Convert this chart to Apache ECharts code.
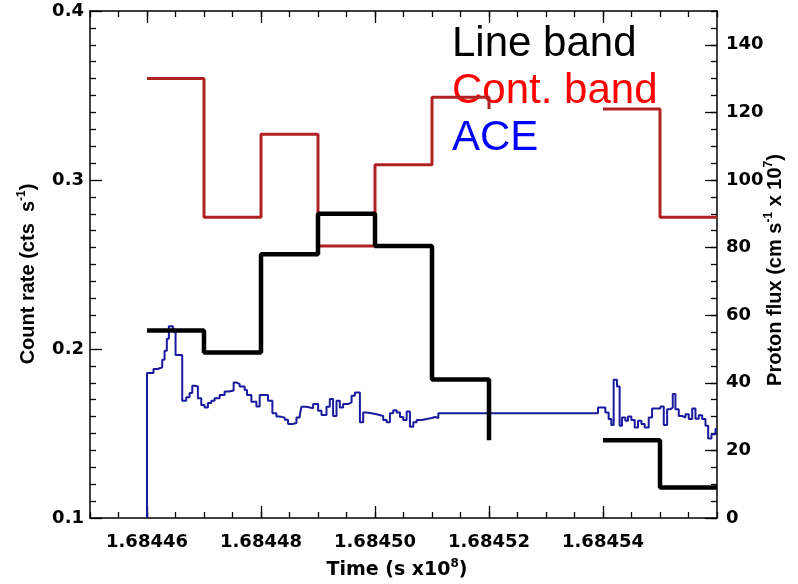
<!DOCTYPE html>
<html>
<head>
<meta charset="utf-8">
<script src="https://cdn.jsdelivr.net/npm/echarts@6/dist/echarts.min.js"></script>
<style>
  html, body { margin: 0; padding: 0; background: #fff; }
  #chart { width: 798px; height: 584px; }
</style>
</head>
<body>
<div id="chart"></div>
<script>
// Time axis in seconds; labels shown in units of 1e8 s
const timeMin = 168445000;
const timeMax = 168456000;
const timeLabelValues = [168446000, 168448000, 168450000, 168452000, 168454000];

// Count rate (cts/s) step vertices; null marks the data gap
const bandTimes = [168446000, 168447000, 168448000, 168449000, 168450000, 168451000, 168452000, null, 168454000, 168455000, 168456000];
const lineBandRates = [0.211, 0.198, 0.256, 0.280, 0.261, 0.182, 0.146, null, 0.146, 0.118, 0.118];
const contBandRates = [0.360, 0.278, 0.327, 0.261, 0.309, 0.349, 0.342, null, 0.342, 0.278, 0.278];

// ACE proton flux (cm^-2 s^-1 x 1e7), times as seconds after aceStart
const aceStart = 168446000;
const aceOffsets = [0, 0, 114, 190, 267, 308, 348, 384, 454, 501,
  618, 688, 747, 794, 835, 893, 952, 1011, 1069, 1128,
  1186, 1274, 1362, 1438, 1520, 1567, 1626, 1714, 1754, 1831,
  1919, 1977, 2123, 2200, 2271, 2329, 2417, 2475, 2552, 2622,
  2680, 2710, 2798, 2914, 3002, 3061, 3149, 3207, 3265, 3325,
  3383, 3441, 3529, 3589, 3647, 3735, 3793, 3852, 3940, 4028,
  4144, 4204, 4262, 4320, 4380, 4438, 4496, 4555, 4613, 4672,
  4731, 4819, 4907, 4995, 5053, 5111, 7912, 8041, 8099, 8146,
  8187, 8246, 8292, 8334, 8392, 8439, 8498, 8556, 8615, 8674,
  8731, 8802, 8861, 9007, 9066, 9125, 9183, 9224, 9271, 9329,
  9389, 9447, 9505, 9565, 9622, 9680, 9740, 9798, 9845, 9903,
  9974, 10000];
const aceFlux = [0, 42.9, 44.1, 44.6, 46.8, 49.5, 53.0, 56.7, 55.7, 48.2,
  34.7, 35.7, 37.0, 39.1, 38.9, 35.4, 33.4, 32.7, 34.0, 34.7,
  35.4, 36.4, 37.4, 37.7, 40.1, 39.6, 38.9, 37.9, 36.4, 34.4,
  33.0, 36.4, 34.7, 31.0, 30.0, 29.7, 29.1, 27.8, 28.1, 29.7,
  30.4, 32.9, 32.5, 33.7, 31.7, 30.5, 32.9, 35.2, 30.2, 34.7,
  32.7, 33.7, 34.2, 36.2, 37.1, 28.3, 31.2, 31.0, 30.7, 30.2,
  29.0, 28.3, 31.0, 31.9, 31.2, 29.9, 29.0, 31.5, 27.0, 28.3,
  29.0, 29.3, 29.6, 29.9, 29.6, 31.0, 32.7, 31.2, 29.3, 27.5,
  40.9, 38.9, 27.3, 29.7, 28.8, 30.0, 29.0, 26.8, 28.8, 27.8,
  26.8, 29.7, 32.4, 33.0, 27.5, 32.2, 32.7, 36.7, 32.2, 30.2,
  29.7, 30.7, 29.3, 32.4, 29.4, 30.4, 29.3, 27.3, 23.5, 24.8,
  26.3, 26.3];

const legendEntries = [
  { text: 'Line band', color: '#000000' },
  { text: 'Cont. band', color: '#ff0000' },
  { text: 'ACE', color: '#0000ff' }
];

function pairs(xs, ys) {
  return xs.map((x, i) => (x === null || ys[i] === null) ? ['-', '-'] : [x, ys[i]]);
}
const aceData = aceOffsets.map((o, i) => [aceStart + o, aceFlux[i]]);

const tickFont = { fontFamily: 'DejaVu Sans', fontWeight: 'bold', fontSize: 18, color: '#000' };
const frameLine = { show: true, lineStyle: { color: '#000', width: 1.5 } };
const tickStyle = { color: '#000', width: 1.3 };

const chart = echarts.init(document.getElementById('chart'), null, { renderer: 'canvas' });

const xBase = { type: 'value', min: timeMin, max: timeMax, gridIndex: 0, splitLine: { show: false } };

chart.setOption({
  animation: false,
  backgroundColor: '#ffffff',
  grid: { left: 90, right: 81, top: 11, bottom: 66, containLabel: false },
  xAxis: [
    Object.assign({}, xBase, {
      position: 'bottom', interval: 500,
      axisLine: frameLine,
      axisTick: { show: true, inside: true, length: 6, lineStyle: tickStyle },
      axisLabel: Object.assign({
        show: true, margin: 15,
        customValues: timeLabelValues,
        formatter: v => (v / 1e8).toFixed(5)
      }, tickFont)
    }),
    Object.assign({}, xBase, {
      position: 'bottom',
      axisLine: { show: false },
      axisTick: { show: true, inside: true, length: 12, customValues: timeLabelValues, lineStyle: tickStyle },
      axisLabel: { show: false }
    }),
    Object.assign({}, xBase, {
      position: 'top', interval: 500,
      axisLine: frameLine,
      axisTick: { show: true, inside: true, length: 6, lineStyle: tickStyle },
      axisLabel: { show: false }
    }),
    Object.assign({}, xBase, {
      position: 'top',
      axisLine: { show: false },
      axisTick: { show: true, inside: true, length: 12, customValues: timeLabelValues, lineStyle: tickStyle },
      axisLabel: { show: false }
    })
  ],
  yAxis: [
    {
      type: 'value', position: 'left', min: 0.1, max: 0.4, interval: 0.1,
      axisLine: frameLine,
      axisTick: { show: true, inside: true, length: 12, lineStyle: tickStyle },
      minorTick: { show: true, splitNumber: 10, length: 6, lineStyle: tickStyle },
      axisLabel: Object.assign({ margin: 6, formatter: v => v.toFixed(1) }, tickFont),
      splitLine: { show: false }, minorSplitLine: { show: false }
    },
    {
      type: 'value', position: 'right', min: 0, max: 150, interval: 20,
      axisLine: frameLine,
      axisTick: { show: true, inside: true, length: 12, lineStyle: tickStyle },
      axisLabel: Object.assign({ margin: 9, showMaxLabel: false }, tickFont),
      splitLine: { show: false }
    },
    {
      type: 'value', position: 'right', min: 0, max: 150, interval: 5,
      axisLine: { show: false },
      axisTick: { show: true, inside: true, length: 6, lineStyle: tickStyle },
      axisLabel: { show: false },
      splitLine: { show: false }
    }
  ],
  series: [
    {
      name: 'Cont. band', type: 'line', step: 'end', xAxisIndex: 0, yAxisIndex: 0,
      data: pairs(bandTimes, contBandRates), showSymbol: false, symbol: 'none', connectNulls: false,
      lineStyle: { color: '#b02222', width: 3 }, z: 3
    },
    {
      name: 'Line band', type: 'line', step: 'end', xAxisIndex: 0, yAxisIndex: 0,
      data: pairs(bandTimes, lineBandRates), showSymbol: false, symbol: 'none', connectNulls: false,
      lineStyle: { color: '#000000', width: 4.5 }, z: 4
    },
    {
      name: 'ACE', type: 'line', step: 'end', xAxisIndex: 0, yAxisIndex: 1,
      data: aceData, showSymbol: false, symbol: 'none',
      lineStyle: { color: '#1a1a9e', width: 2 }, z: 2
    }
  ],
  graphic: [
    ...legendEntries.map((e, i) => ({
      type: 'text', x: 452, y: 44 + i * 47,
      style: { text: e.text, fill: e.color, font: '42px "Liberation Sans"', align: 'left', verticalAlign: 'middle' }
    })),
    {
      type: 'text', x: 28, y: 274, rotation: Math.PI / 2,
      style: {
        text: '{t|Count rate (cts  s}{s|-1}{t|)}', align: 'center', verticalAlign: 'middle', fill: '#000',
        rich: {
          t: { fontFamily: 'Liberation Sans', fontWeight: 'bold', fontSize: 20, lineHeight: 24, fill: '#000' },
          s: { fontFamily: 'Liberation Sans', fontWeight: 'bold', fontSize: 12, verticalAlign: 'top', fill: '#000' }
        }
      }
    },
    {
      type: 'text', x: 775, y: 270, rotation: Math.PI / 2,
      style: {
        text: '{t|Proton flux (cm s}{s|-1}{t| x 10}{s|7}{t|)}', align: 'center', verticalAlign: 'middle', fill: '#000',
        rich: {
          t: { fontFamily: 'Liberation Sans', fontWeight: 'bold', fontSize: 20, lineHeight: 24, fill: '#000' },
          s: { fontFamily: 'Liberation Sans', fontWeight: 'bold', fontSize: 12, verticalAlign: 'top', fill: '#000' }
        }
      }
    },
    {
      type: 'text', x: 397, y: 570,
      style: {
        text: '{t|Time (s x10}{s|8}{t|)}', align: 'center', verticalAlign: 'middle', fill: '#000',
        rich: {
          t: { fontFamily: 'DejaVu Sans', fontWeight: 'bold', fontSize: 19, lineHeight: 24, fill: '#000' },
          s: { fontFamily: 'DejaVu Sans', fontWeight: 'bold', fontSize: 12, verticalAlign: 'top', fill: '#000' }
        }
      }
    }
  ]
});
</script>
</body>
</html>
